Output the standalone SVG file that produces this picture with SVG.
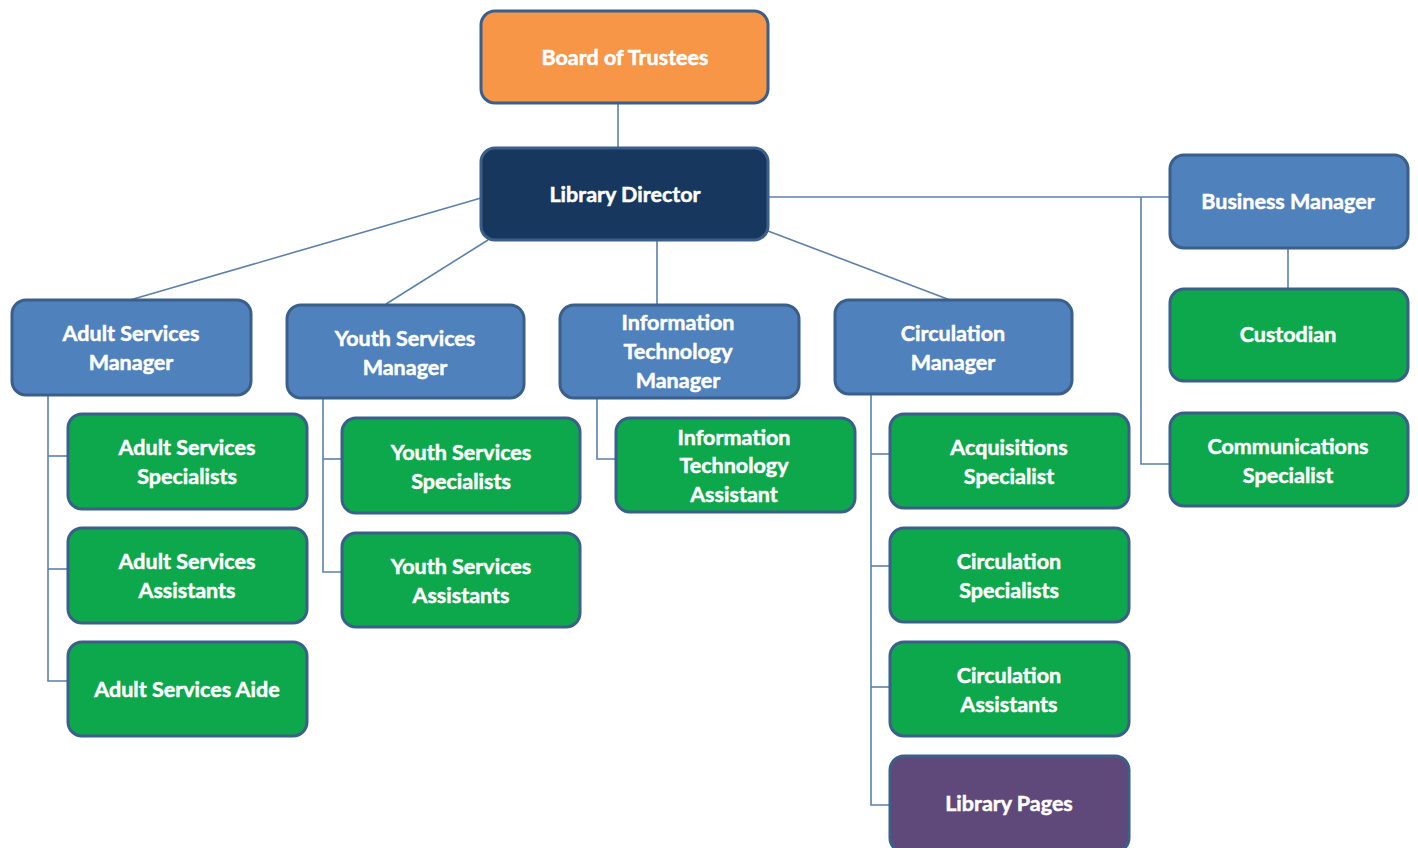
<svg xmlns="http://www.w3.org/2000/svg" width="1418" height="848" viewBox="0 0 1418 848">
  <style>
    .box { stroke: #3A5F8B; stroke-width: 3; }
    .board { fill: #F79646; }
    .director { fill: #17375E; }
    .mgr { fill: #4F81BD; }
    .staff { fill: #0CA84B; }
    .pages { fill: #5F497A; }
    .lbl { font-family: Lato, "Open Sans", "Liberation Sans", sans-serif; font-weight: bold; font-size: 21.5px; fill: #FFFFFF; stroke: #FFFFFF; stroke-width: 0.5; text-anchor: middle; dominant-baseline: central; }
    .conn line, .conn polyline { stroke: #5B80AB; stroke-width: 1.6; fill: none; }
  </style>
  <rect width="1418" height="848" fill="#FFFFFF"/>

  <g id="connectors" class="conn">
    <line x1="618" y1="103" x2="618" y2="148"/>
    <line x1="481" y1="198" x2="130" y2="300"/>
    <line x1="488" y1="240" x2="386" y2="304"/>
    <line x1="657" y1="240" x2="657" y2="305"/>
    <line x1="768" y1="231" x2="950" y2="300"/>
    <line x1="768" y1="197" x2="1170" y2="197"/>
    <polyline points="1141,197 1141,464 1170,464"/>
    <line x1="1288" y1="248" x2="1288" y2="289"/>
    <!-- Adult services -->
    <polyline points="48,395 48,681 68,681"/>
    <line x1="48" y1="456" x2="68" y2="456"/>
    <line x1="48" y1="569" x2="68" y2="569"/>
    <!-- Youth services -->
    <polyline points="323,398 323,572 342,572"/>
    <line x1="323" y1="459" x2="342" y2="459"/>
    <!-- IT -->
    <polyline points="597,398 597,459 616,459"/>
    <!-- Circulation -->
    <polyline points="871,394 871,805 890,805"/>
    <line x1="871" y1="454" x2="890" y2="454"/>
    <line x1="871" y1="566" x2="890" y2="566"/>
    <line x1="871" y1="687" x2="890" y2="687"/>
  </g>

  <g id="board">
    <rect class="box board" x="481" y="11" width="287" height="92" rx="14"/>
    <text class="lbl" x="625" y="57">Board of Trustees</text>
  </g>
  <g id="director">
    <rect class="box director" x="481" y="148" width="287" height="92" rx="14"/>
    <text class="lbl" x="625" y="194">Library Director</text>
  </g>

  <g id="adult-manager">
    <rect class="box mgr" x="12" y="300" width="239" height="95" rx="14"/>
    <text class="lbl" x="131" y="333">Adult Services</text>
    <text class="lbl" x="131" y="362">Manager</text>
  </g>
  <g id="youth-manager">
    <rect class="box mgr" x="287" y="305" width="237" height="93" rx="14"/>
    <text class="lbl" x="405" y="338">Youth Services</text>
    <text class="lbl" x="405" y="367">Manager</text>
  </g>
  <g id="it-manager">
    <rect class="box mgr" x="560" y="305" width="239" height="93" rx="14"/>
    <text class="lbl" x="678" y="322">Information</text>
    <text class="lbl" x="678" y="351">Technology</text>
    <text class="lbl" x="678" y="380">Manager</text>
  </g>
  <g id="circulation-manager">
    <rect class="box mgr" x="835" y="300" width="237" height="94" rx="14"/>
    <text class="lbl" x="953" y="333">Circulation</text>
    <text class="lbl" x="953" y="362">Manager</text>
  </g>
  <g id="business-manager">
    <rect class="box mgr" x="1170" y="155" width="238" height="93" rx="14"/>
    <text class="lbl" x="1288" y="201">Business Manager</text>
  </g>

  <g id="custodian">
    <rect class="box staff" x="1170" y="289" width="238" height="92" rx="14"/>
    <text class="lbl" x="1288" y="334">Custodian</text>
  </g>
  <g id="communications-specialist">
    <rect class="box staff" x="1170" y="413" width="238" height="93" rx="14"/>
    <text class="lbl" x="1288" y="446">Communications</text>
    <text class="lbl" x="1288" y="475">Specialist</text>
  </g>

  <g id="adult-specialists">
    <rect class="box staff" x="68" y="414" width="239" height="95" rx="14"/>
    <text class="lbl" x="187" y="447">Adult Services</text>
    <text class="lbl" x="187" y="476">Specialists</text>
  </g>
  <g id="adult-assistants">
    <rect class="box staff" x="68" y="528" width="239" height="95" rx="14"/>
    <text class="lbl" x="187" y="561">Adult Services</text>
    <text class="lbl" x="187" y="590">Assistants</text>
  </g>
  <g id="adult-aide">
    <rect class="box staff" x="68" y="642" width="239" height="94" rx="14"/>
    <text class="lbl" x="187" y="689">Adult Services Aide</text>
  </g>

  <g id="youth-specialists">
    <rect class="box staff" x="342" y="418" width="238" height="95" rx="14"/>
    <text class="lbl" x="461" y="452">Youth Services</text>
    <text class="lbl" x="461" y="481">Specialists</text>
  </g>
  <g id="youth-assistants">
    <rect class="box staff" x="342" y="533" width="238" height="94" rx="14"/>
    <text class="lbl" x="461" y="566">Youth Services</text>
    <text class="lbl" x="461" y="595">Assistants</text>
  </g>

  <g id="it-assistant">
    <rect class="box staff" x="616" y="418" width="239" height="94" rx="14"/>
    <text class="lbl" x="734" y="437">Information</text>
    <text class="lbl" x="734" y="465">Technology</text>
    <text class="lbl" x="734" y="494">Assistant</text>
  </g>

  <g id="acquisitions-specialist">
    <rect class="box staff" x="890" y="414" width="239" height="94" rx="14"/>
    <text class="lbl" x="1009" y="447">Acquisitions</text>
    <text class="lbl" x="1009" y="476">Specialist</text>
  </g>
  <g id="circulation-specialists">
    <rect class="box staff" x="890" y="528" width="239" height="94" rx="14"/>
    <text class="lbl" x="1009" y="561">Circulation</text>
    <text class="lbl" x="1009" y="590">Specialists</text>
  </g>
  <g id="circulation-assistants">
    <rect class="box staff" x="890" y="642" width="239" height="94" rx="14"/>
    <text class="lbl" x="1009" y="675">Circulation</text>
    <text class="lbl" x="1009" y="704">Assistants</text>
  </g>
  <g id="library-pages">
    <rect class="box pages" x="890" y="756" width="239" height="96" rx="14"/>
    <text class="lbl" x="1009" y="803">Library Pages</text>
  </g>
</svg>
